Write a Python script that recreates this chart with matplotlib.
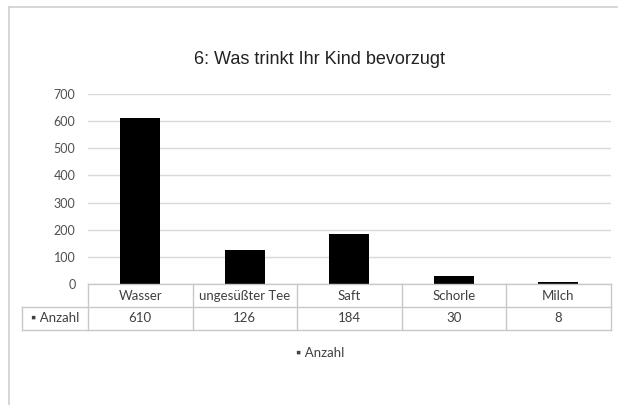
import matplotlib
matplotlib.use("Agg")
import matplotlib.pyplot as plt
from matplotlib.lines import Line2D

categories = ["Wasser", "ungesüßter Tee", "Saft", "Schorle", "Milch"]
values = [610, 126, 184, 30, 8]
series_name = "Anzahl"
yticks = [0, 100, 200, 300, 400, 500, 600, 700]
title = "6: Was trinkt Ihr Kind bevorzugt"

W, H = 618, 405
fig = plt.figure(figsize=(W / 100, H / 100), dpi=100)
fig.patch.set_facecolor("white")

def fx(px):
    return px / W

def fy(py):
    return 1 - py / H

# outer border (top and left visible)
fig.lines.append(Line2D([fx(9), 1.0], [fy(7), fy(7)], transform=fig.transFigure,
                        color="#d0d0d0", linewidth=1.2))
fig.lines.append(Line2D([fx(9), fx(9)], [fy(7), 0.0], transform=fig.transFigure,
                        color="#d0d0d0", linewidth=1.2))

left, right, top, bottom = 88, 610.5, 94, 284
ax = fig.add_axes([fx(left), fy(bottom), fx(right) - fx(left), fy(top) - fy(bottom)])
x = list(range(len(categories)))
ax.bar(x, values, width=0.38, color="black", zorder=3)
ax.set_xlim(-0.5, len(categories) - 0.5)
ax.set_ylim(0, 700)
ax.set_yticks(yticks)
ax.set_yticklabels([str(t) for t in yticks], fontsize=9, color="#505050",
                   family="Lato")
ax.tick_params(axis="y", length=0, pad=9)
ax.set_xticks([])
for s in ax.spines.values():
    s.set_visible(False)
ax.yaxis.grid(True, color="#d9d9d9", linewidth=1.0, zorder=0)
ax.set_facecolor("none")

# data table
tleft = 22
unit = (right - left) / len(categories)
x0 = -0.5 - (left - tleft) / unit
tax = fig.add_axes([fx(tleft), fy(330), fx(right) - fx(tleft), fy(284) - fy(330)])
tax.set_xlim(x0, len(categories) - 0.5)
tax.set_ylim(0, 2)
tax.axis("off")
lc = "#c8c8c8"
lw = 1.0
tax.plot([-0.5, len(categories) - 0.5], [2, 2], color=lc, lw=lw, clip_on=False)
tax.plot([x0, len(categories) - 0.5], [1, 1], color=lc, lw=lw, clip_on=False)
tax.plot([x0, len(categories) - 0.5], [0, 0], color=lc, lw=lw, clip_on=False)
tax.plot([x0, x0], [0, 1], color=lc, lw=lw, clip_on=False)
for i in range(len(categories) + 1):
    tax.plot([i - 0.5, i - 0.5], [0, 2], color=lc, lw=lw, clip_on=False)
tfont = dict(fontsize=9.5, color="#404040", family="Lato", ha="center", va="center")
for i, (c, v) in enumerate(zip(categories, values)):
    tax.text(i, 1.5, c, **tfont)
    tax.text(i, 0.5, str(v), **tfont)
tax.text((x0 - 0.5) / 2, 0.5, "\u25aa " + series_name, **tfont)

# legend
fig.text(fx(320), fy(353), "\u25aa " + series_name, fontsize=9.5, color="#404040",
         family="Lato", ha="center", va="center")

# title
fig.text(fx(319), fy(60), title, fontsize=13, color="#222222",
         family="Liberation Sans", ha="center", va="center")

fig.savefig("out.png", dpi=100)
